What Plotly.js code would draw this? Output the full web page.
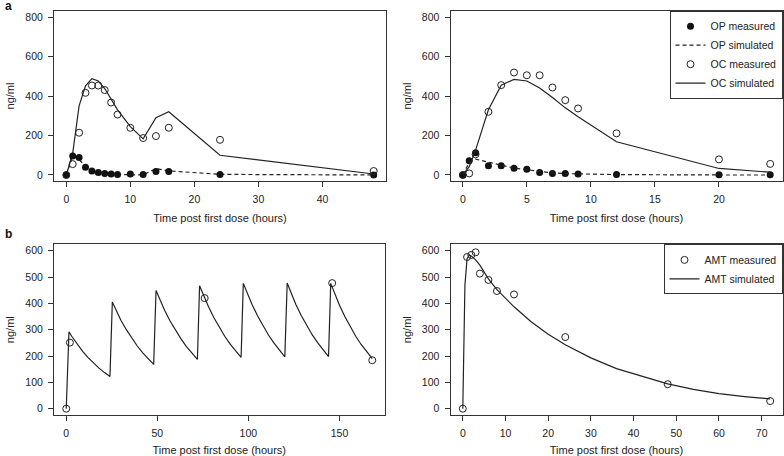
<!DOCTYPE html>
<html>
<head>
<meta charset="utf-8">
<script src="https://cdn.plot.ly/plotly-3.0.1.min.js"></script>
<style>html,body{margin:0;padding:0;background:#fff;}#chart{width:784px;height:456px;}</style>
</head>
<body>
<div id="chart"></div>
<script>
// ---- Panel a, left (0-48 h) ----
const tA1 = [0, 1, 2, 3, 4, 5, 6, 7, 8, 10, 12, 14, 16, 24, 48];
const opMeasA1 = [0, 96, 88, 39, 20, 13, 8, 5, 3, 5, 3, 17, 17, 3, 0];
const ocMeasA1 = [0, 55, 214, 416, 453, 453, 430, 367, 306, 239, 187, 197, 239, 178, 20];
const opSimA1 = [0, 97, 78, 44, 25, 15, 9, 5, 3, 1, 1, 32, 21, 3, 0];
const ocSimA1 = [0, 110, 350, 452, 488, 476, 438, 385, 330, 245, 183, 290, 320, 100, 5];

// ---- Panel a, right (0-24 h) ----
const tA2 = [0, 0.5, 1, 2, 3, 4, 5, 6, 7, 8, 9, 12, 20, 24];
const opMeasA2 = [0, 72, 113, 47, 47, 34, 29, 13, 8, 7, 5, 3, 1, 1];
const ocMeasA2 = [0, 8, 105, 320, 455, 519, 505, 505, 443, 379, 337, 211, 79, 56];
const opSimA2 = [0, 64, 80, 65, 48, 35, 26, 17, 11, 7, 5, 2, 0, 0];
const ocSimA2 = [0, 42, 126, 330, 455, 484, 476, 440, 392, 340, 295, 168, 33, 14];

// ---- Panel b, left (multiple dosing, 0-168 h) ----
const tB1Meas = [0, 2, 76, 146, 168];
const amtMeasB1 = [0, 251, 420, 477, 184];
const tB1Sim = [0, 1.5, 3, 6, 9, 12, 15, 18, 21, 24,
                25.3, 27, 30, 33, 36, 39, 42, 45, 48,
                49.3, 51, 54, 57, 60, 63, 66, 69, 72,
                73.2, 75, 78, 81, 84, 87, 90, 93, 96,
                97.2, 99, 102, 105, 108, 111, 114, 117, 120,
                121.3, 123, 126, 129, 132, 135, 138, 141, 144,
                145.2, 147, 150, 153, 156, 159, 162, 165, 168];
const amtSimB1 = [0, 292, 275, 245, 218, 194, 172, 154, 137, 122,
                  405, 379, 336, 300, 267, 238, 212, 189, 168,
                  449, 420, 374, 333, 297, 265, 236, 210, 187,
                  467, 436, 389, 346, 308, 275, 245, 218, 195,
                  476, 444, 396, 353, 315, 280, 250, 222, 197,
                  477, 446, 397, 354, 316, 281, 251, 223, 198,
                  476, 443, 393, 349, 309, 274, 243, 215, 190];

// ---- Panel b, right (single dose, 0-72 h) ----
const tB2Meas = [0, 1, 2, 3, 4, 6, 8, 12, 24, 48, 72];
const amtMeasB2 = [0, 576, 584, 594, 513, 489, 447, 434, 272, 93, 29];
const tB2Sim = [0, 0.5, 1, 1.5, 2, 3, 4, 6, 8, 12, 16, 20, 24, 30, 36, 42, 48, 54, 60, 66, 72];
const amtSimB2 = [0, 470, 570, 583, 580, 565, 545, 493, 452, 387, 330, 283, 243, 193, 152, 122, 94, 73, 57, 46, 37];

const FONT = 'Liberation Sans, Arial, Helvetica, sans-serif';
const INK = '#222222';
const W = 784, H = 456;

function openPts(x, y, name, xa, ya, legend, show) {
  return {x: x, y: y, type: 'scatter', mode: 'markers', name: name, xaxis: xa, yaxis: ya,
    legend: legend, showlegend: show, cliponaxis: false,
    marker: {symbol: 'circle-open', size: 7, color: INK, line: {width: 1, color: INK}}};
}
function filledPts(x, y, name, xa, ya, legend, show) {
  return {x: x, y: y, type: 'scatter', mode: 'markers', name: name, xaxis: xa, yaxis: ya,
    legend: legend, showlegend: show, cliponaxis: false,
    marker: {symbol: 'circle', size: 7, color: '#111111'}};
}
function simLine(x, y, name, xa, ya, legend, show, dash) {
  return {x: x, y: y, type: 'scatter', mode: 'lines', name: name, xaxis: xa, yaxis: ya,
    legend: legend, showlegend: show,
    line: {color: INK, width: 1.2, dash: dash || 'solid'}};
}

const traces = [
  // panel a right (with legend)
  filledPts(tA2, opMeasA2, 'OP measured', 'x2', 'y2', 'legend', true),
  simLine(tA2, opSimA2, 'OP simulated', 'x2', 'y2', 'legend', true, '4px,3px'),
  openPts(tA2, ocMeasA2, 'OC measured', 'x2', 'y2', 'legend', true),
  simLine(tA2, ocSimA2, 'OC simulated', 'x2', 'y2', 'legend', true),
  // panel a left
  simLine(tA1, opSimA1, 'OP simulated', 'x', 'y', 'legend', false, '4px,3px'),
  simLine(tA1, ocSimA1, 'OC simulated', 'x', 'y', 'legend', false),
  filledPts(tA1, opMeasA1, 'OP measured', 'x', 'y', 'legend', false),
  openPts(tA1, ocMeasA1, 'OC measured', 'x', 'y', 'legend', false),
  // panel b left
  simLine(tB1Sim, amtSimB1, 'AMT simulated', 'x3', 'y3', 'legend2', false),
  openPts(tB1Meas, amtMeasB1, 'AMT measured', 'x3', 'y3', 'legend2', false),
  // panel b right (with legend)
  openPts(tB2Meas, amtMeasB2, 'AMT measured', 'x4', 'y4', 'legend2', true),
  simLine(tB2Sim, amtSimB2, 'AMT simulated', 'x4', 'y4', 'legend2', true)
];

function xAxis(l, r, range, dtick, anchor) {
  return {domain: [l / W, r / W], range: range, dtick: dtick, tick0: 0, anchor: anchor,
    showgrid: false, zeroline: false, showline: true, mirror: true, linecolor: '#333', linewidth: 1,
    ticks: 'outside', ticklen: 5, tickwidth: 1, tickcolor: '#333', ticklabelstandoff: 3,
    tickfont: {family: FONT, size: 10.5, color: INK},
    title: {text: 'Time post first dose (hours)', font: {family: FONT, size: 11, color: INK}, standoff: 10}};
}
function yAxis(top, bottom, range, dtick, anchor) {
  return {domain: [1 - bottom / H, 1 - top / H], range: range, dtick: dtick, tick0: 0, anchor: anchor,
    showgrid: false, zeroline: false, showline: true, mirror: true, linecolor: '#333', linewidth: 1,
    ticks: 'outside', ticklen: 5, tickwidth: 1, tickcolor: '#333', ticklabelstandoff: 3,
    tickfont: {family: FONT, size: 10.5, color: INK},
    title: {text: 'ng/ml', font: {family: FONT, size: 11, color: INK}, standoff: 8}};
}

const layout = {
  width: W, height: H,
  margin: {l: 0, r: 0, t: 0, b: 0},
  paper_bgcolor: '#ffffff', plot_bgcolor: '#ffffff',
  font: {family: FONT, size: 10.5, color: INK},
  xaxis: xAxis(54, 386, [-1.92, 49.92], 10, 'y'),
  yaxis: yAxis(10.7, 181.3, [-32, 832], 200, 'x'),
  xaxis2: xAxis(450.5, 782.5, [-0.96, 24.96], 5, 'y2'),
  yaxis2: yAxis(10.7, 181.3, [-32, 832], 200, 'x2'),
  xaxis3: xAxis(54, 384.5, [-6.72, 174.72], 50, 'y3'),
  yaxis3: yAxis(244.4, 415, [-24, 624], 100, 'x3'),
  xaxis4: xAxis(450.5, 782.5, [-2.88, 74.88], 10, 'y4'),
  yaxis4: yAxis(244.4, 415, [-24, 624], 100, 'x4'),
  legend: {x: 782.5 / W, y: 1 - 10.7 / H, xanchor: 'right', yanchor: 'top',
    bgcolor: '#ffffff', bordercolor: '#333', borderwidth: 1, tracegroupgap: 0,
    font: {family: FONT, size: 10.5, color: INK}, itemwidth: 30},
  legend2: {x: 782.5 / W, y: 1 - 244.4 / H, xanchor: 'right', yanchor: 'top',
    bgcolor: '#ffffff', bordercolor: '#333', borderwidth: 1, tracegroupgap: 0,
    font: {family: FONT, size: 10.5, color: INK}, itemwidth: 30},
  annotations: [
    {text: '<b>a</b>', xref: 'paper', yref: 'paper', x: 3 / W, y: 1 - 6 / H, xanchor: 'left', yanchor: 'middle',
      showarrow: false, font: {family: FONT, size: 12, color: '#111'}},
    {text: '<b>b</b>', xref: 'paper', yref: 'paper', x: 3 / W, y: 1 - 234 / H, xanchor: 'left', yanchor: 'middle',
      showarrow: false, font: {family: FONT, size: 12, color: '#111'}}
  ]
};

Plotly.newPlot('chart', traces, layout, {displayModeBar: false, staticPlot: true});
</script>
</body>
</html>
